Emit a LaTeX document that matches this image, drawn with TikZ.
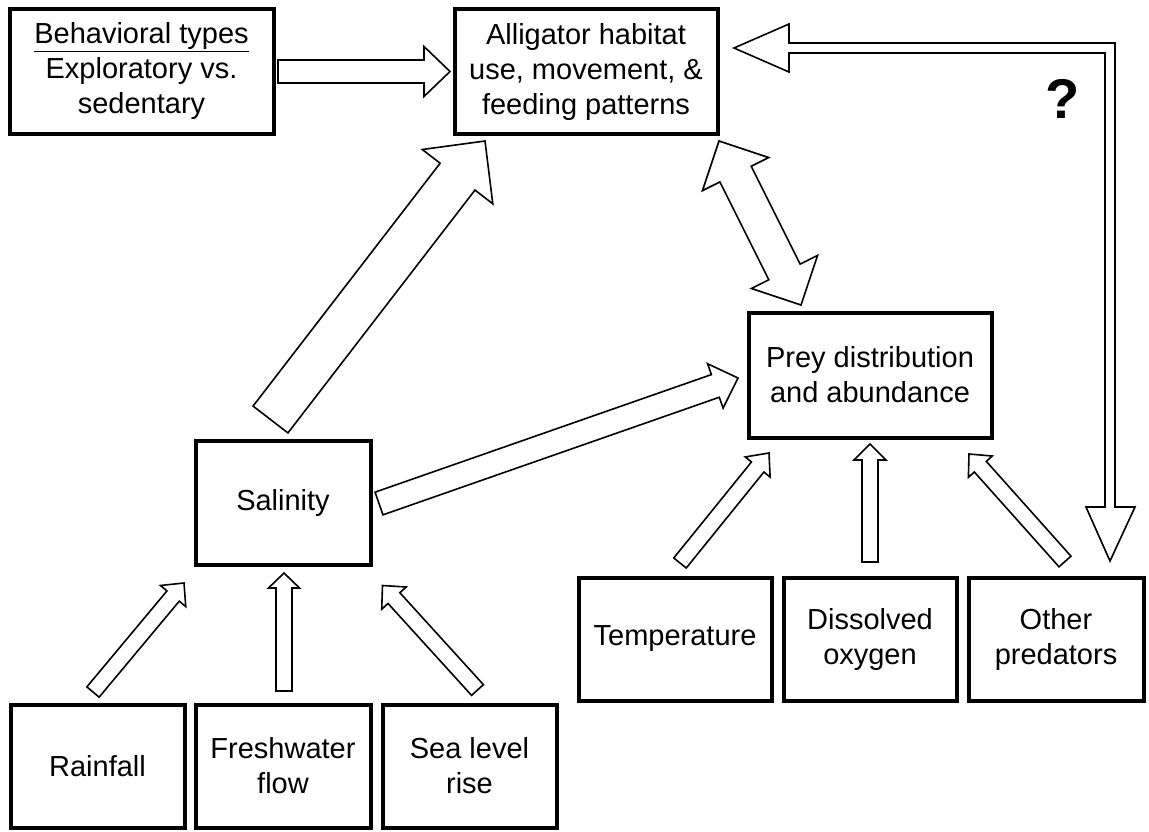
\documentclass[tikz,border=0pt]{standalone}
\usepackage{fontspec}
\setmainfont{Liberation Sans}
\usetikzlibrary{calc}
\tikzset{
  box/.style={draw, line width=4pt, inner sep=0pt, align=center, line join=miter,
    font=\fontsize{29}{35}\selectfont},
  arrline/.style={draw, line width=1.6pt, fill=white, line join=miter},
}
% block arrow: #1 tail, #2 tip, #3 shaft width, #4 head width, #5 head length
\newcommand{\blockarr}[5]{%
  \coordinate (tmpB) at ($(#2)!#5!(#1)$);
  \draw[arrline] ($(#1)!0.5*#3!90:(#2)$) -- ($(tmpB)!0.5*#3!-90:(#1)$)
    -- ($(tmpB)!0.5*#4!-90:(#1)$) -- (#2) -- ($(tmpB)!0.5*#4!90:(#1)$)
    -- ($(tmpB)!0.5*#3!90:(#1)$) -- ($(#1)!0.5*#3!-90:(#2)$) -- cycle;
}
\begin{document}
\begin{tikzpicture}[x=1pt,y=-1pt]
\useasboundingbox (0,0) rectangle (1149,831);
\fill[white] (0,0) rectangle (1149,831);

% boxes
\node[box, minimum width=264pt, minimum height=125pt] (beh) at (141.5,71)
  {\underline{Behavioral types}\\Exploratory vs.\\sedentary};
\node[box, minimum width=263pt, minimum height=125pt] (all) at (586,71.5)
  {Alligator habitat\\use, movement, \&\\feeding patterns};
\node[box, minimum width=243pt, minimum height=125pt] (prey) at (870,375)
  {Prey distribution\\and abundance};
\node[box, minimum width=175pt, minimum height=124pt] (sal) at (283,502.5) {Salinity};
\node[box, minimum width=174pt, minimum height=123pt] (rain) at (97.5,766) {Rainfall};
\node[box, minimum width=175pt, minimum height=123pt] (fresh) at (283,766) {Freshwater\\flow};
\node[box, minimum width=174pt, minimum height=123pt] (sea) at (469.5,766) {Sea level\\rise};
\node[box, minimum width=193pt, minimum height=123pt] (temp) at (675,639) {Temperature};
\node[box, minimum width=173pt, minimum height=123pt] (diss) at (870,639) {Dissolved\\oxygen};
\node[box, minimum width=175pt, minimum height=123pt] (oth) at (1056,639) {Other\\predators};

\node[inner sep=0pt, font=\fontsize{56}{60}\selectfont\bfseries] (q) at (1063,99) {?};

% arrow end points
\coordinate (bA) at (278,71.5);     \coordinate (bB) at (450,71.5);
\coordinate (sA) at (270.5,419.5);  \coordinate (sB) at (485,141);
\coordinate (spA) at (379,503.5);   \coordinate (spB) at (738,378);
\coordinate (tA) at (680,563);      \coordinate (tB) at (769,453);
\coordinate (dA) at (870,562);      \coordinate (dB) at (870,444);
\coordinate (oA) at (1065,561.5);   \coordinate (oB) at (969,454);
\coordinate (rA) at (93,692);       \coordinate (rB) at (184,583);
\coordinate (fA) at (284,691);      \coordinate (fB) at (284,573);
\coordinate (slA) at (477.5,690);   \coordinate (slB) at (382.5,585.5);

\blockarr{bA}{bB}{23pt}{50pt}{26pt}
\blockarr{sA}{sB}{44pt}{89pt}{45pt}
\blockarr{spA}{spB}{24pt}{47pt}{24pt}
\blockarr{tA}{tB}{16pt}{32pt}{18pt}
\blockarr{dA}{dB}{16pt}{32pt}{16pt}
\blockarr{oA}{oB}{16pt}{32pt}{17pt}
\blockarr{rA}{rB}{16pt}{33pt}{17pt}
\blockarr{fA}{fB}{16pt}{31pt}{15pt}
\blockarr{slA}{slB}{16pt}{33pt}{17pt}

% double arrow alligator <-> prey
\coordinate (daA) at (719,141); \coordinate (daC) at (801,305);
\coordinate (daB1) at ($(daA)!37pt!(daC)$);
\coordinate (daB2) at ($(daC)!37pt!(daA)$);
\draw[arrline] (daA) -- ($(daB1)!37pt!90:(daC)$) -- ($(daB1)!17.5pt!90:(daC)$)
  -- ($(daB2)!17.5pt!-90:(daA)$) -- ($(daB2)!37pt!-90:(daA)$) -- (daC)
  -- ($(daB2)!37pt!90:(daA)$) -- ($(daB2)!17.5pt!90:(daA)$)
  -- ($(daB1)!17.5pt!-90:(daC)$) -- ($(daB1)!37pt!-90:(daC)$) -- cycle;

% feedback arrow (other predators <-> alligator)
\coordinate (fbA) at (734,48); \coordinate (fbB) at (1110,561);
\draw[arrline] (fbA) -- (789,24) -- (789,43) -- (1115,43) -- (1115,507) -- (1135,507)
  -- (fbB) -- (1086,507) -- (1105,507) -- (1105,53) -- (789,53) -- (789,72) -- cycle;
\end{tikzpicture}
\end{document}
